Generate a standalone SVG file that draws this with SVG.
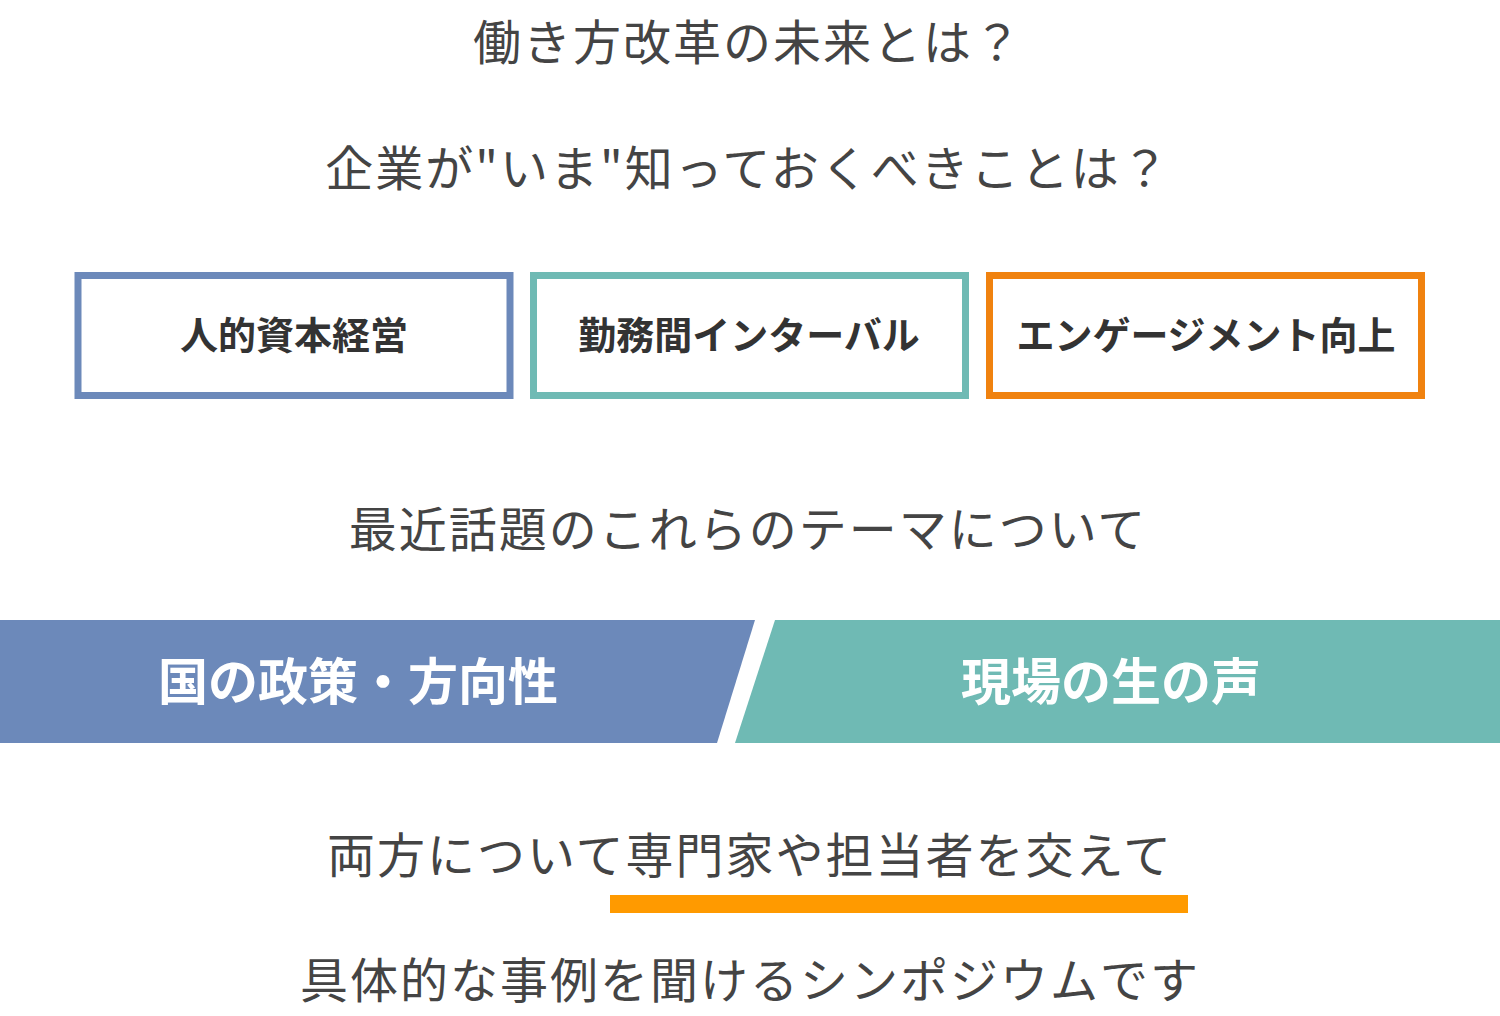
<svg xmlns="http://www.w3.org/2000/svg" width="1500" height="1016" viewBox="0 0 1500 1016">
<style>
.t{font-family:"Noto Sans CJK JP","Noto Sans",sans-serif;fill:#444;font-size:48px;text-anchor:middle;letter-spacing:2px}
.b{font-family:"Noto Sans CJK JP","Noto Sans",sans-serif;font-weight:bold;fill:#333;font-size:38px;text-anchor:middle}
.w{font-family:"Noto Sans CJK JP","Noto Sans",sans-serif;font-weight:bold;fill:#fff;font-size:50px;text-anchor:middle}
.box{fill:#fff;stroke-width:7}
</style>
<rect width="1500" height="1016" fill="#fff"/>
<text class="t" x="748" y="60">働き方改革の未来とは？</text>
<text class="t" x="748" y="186">企業が"いま"知っておくべきことは？</text>
<g id="n1"><rect class="box" x="78" y="275.5" width="432" height="120" stroke="#6c89ba"/><text class="b" x="294" y="349">人的資本経営</text></g>
<g id="n2"><rect class="box" x="533.5" y="275.5" width="432" height="120" stroke="#6fbab4"/><text class="b" x="749" y="349">勤務間インターバル</text></g>
<g id="n3"><rect class="box" x="989.5" y="275.5" width="432" height="120" stroke="#f0820f"/><text class="b" x="1206" y="349">エンゲージメント向上</text></g>
<text class="t" x="748" y="547">最近話題のこれらのテーマについて</text>
<g id="n4"><polygon points="0,620 755,620 717,743 0,743" fill="#6c89ba"/><text class="w" x="358" y="700">国の政策・方向性</text></g>
<g id="n5"><polygon points="775,620 1500,620 1500,743 735,743" fill="#6fbab4"/><text class="w" x="1111" y="700">現場の生の声</text></g>
<text class="t" x="750" y="873">両方について専門家や担当者を交えて</text>
<rect x="610" y="895" width="578" height="18" fill="#ff9a00"/>
<text class="t" x="750" y="998">具体的な事例を聞けるシンポジウムです</text>
<g id="connectors"/>
</svg>
